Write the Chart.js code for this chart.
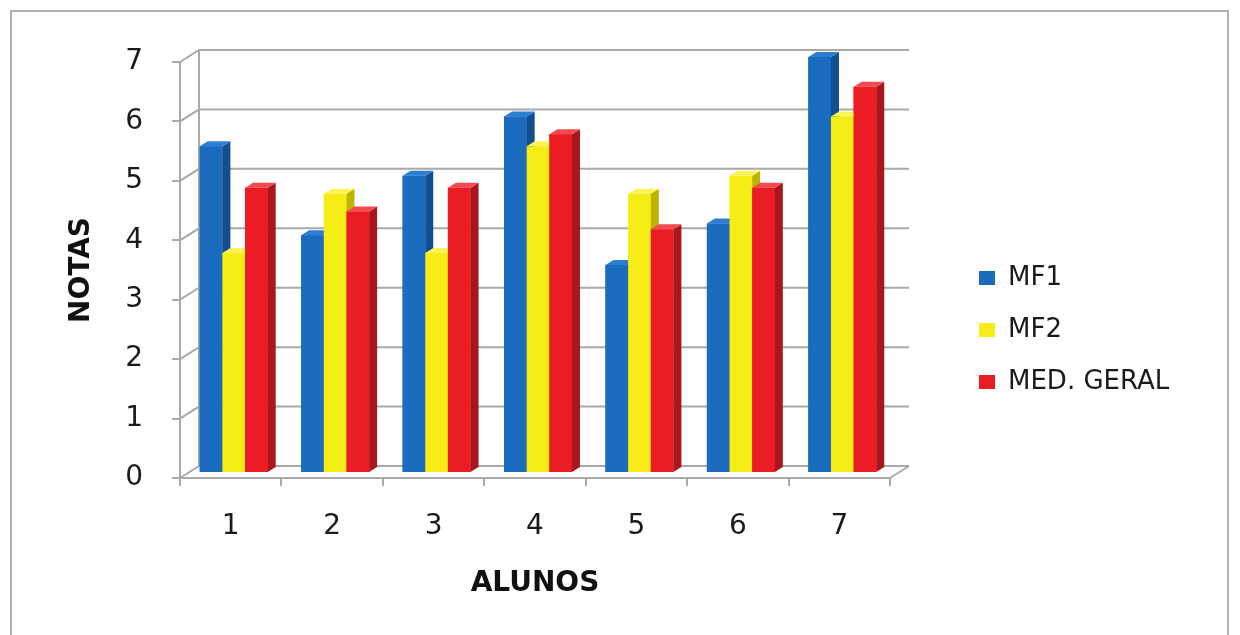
<!DOCTYPE html>
<html><head><meta charset="utf-8">
<script src="https://cdn.jsdelivr.net/npm/chart.js@4.4.1/dist/chart.umd.min.js"></script>
<style>
html,body{margin:0;padding:0;background:#fff;}
#wrap{position:relative;width:1240px;height:635px;overflow:hidden;background:#fff;}
#frame{position:absolute;left:10px;top:10px;width:1219px;height:660px;border:2px solid #b0b0b0;box-sizing:border-box;}
canvas{position:absolute;left:0;top:0;}
</style></head><body>
<div id="wrap"><div id="frame"></div><canvas id="c" width="1240" height="635"></canvas></div>
<script>
const categories = ['1', '2', '3', '4', '5', '6', '7'];
const seriesNames = ['MF1', 'MF2', 'MED. GERAL'];
const mf1 = [5.5, 4.0, 5.0, 6.0, 3.5, 4.2, 7.0];
const mf2 = [3.7, 4.7, 3.7, 5.5, 4.7, 5.0, 6.0];
const medGeral = [4.8, 4.4, 4.8, 5.7, 4.1, 4.8, 6.5];
const yTicks = [0, 1, 2, 3, 4, 5, 6, 7];

const frontColors = ['#1b6cbf', '#f6ec16', '#ec1c24'];
const sideColors = ['#134f8f', '#bdb400', '#a9161c'];
const topColors = ['#2a7fd3', '#fbf35a', '#f24a50'];
const GRID = '#a9a9a9';
const FONT = 'DejaVu Sans';
const LEG_SIZE = 26;
const DX = 19, DY = -12;   // wall depth
const BX = 3, BY = -5;     // bar plane offset
const SX = 8, SY = -5;     // bar thickness

function measureLegend(t) {
  const c = document.createElement('canvas').getContext('2d');
  c.font = LEG_SIZE + 'px ' + FONT;
  return c.measureText(t).width;
}
const widest = Math.max(...seriesNames.map(measureLegend));
const itemW = 16 + LEG_SIZE / 2 + widest;
const padR = Math.max(0, 1240 - 953 - 26 - itemW - 10);

const plugin3d = {
  id: 'threeD',
  beforeDatasetsDraw(chart) {
    const { ctx, chartArea: { left, right }, scales: { y } } = chart;
    ctx.save();
    ctx.strokeStyle = GRID;
    ctx.lineWidth = 2;
    yTicks.forEach(v => {
      const py = y.getPixelForValue(v);
      ctx.beginPath();
      ctx.moveTo(left, py);
      ctx.lineTo(left + DX, py + DY);
      ctx.lineTo(right + DX, py + DY);
      ctx.stroke();
    });
    const p0 = y.getPixelForValue(yTicks[0]);
    const pTop = y.getPixelForValue(yTicks[yTicks.length - 1]);
    ctx.beginPath();
    ctx.moveTo(left + DX, p0 + DY);
    ctx.lineTo(left + DX, pTop + DY);
    ctx.stroke();
    ctx.beginPath();
    ctx.moveTo(right, p0);
    ctx.lineTo(right + DX, p0 + DY);
    ctx.stroke();
    ctx.restore();
    ctx.save();
    ctx.translate(BX, BY);
  },
  afterDatasetsDraw(chart) {
    const ctx = chart.ctx;
    for (let i = 0; i < chart.data.datasets.length; i++) {
      chart.getDatasetMeta(i).data.forEach(bar => {
        bar.draw(ctx);
        const { x, y, base, width } = bar.getProps(['x', 'y', 'base', 'width'], true);
        const x0 = x - width / 2, x1 = x + width / 2;
        ctx.fillStyle = sideColors[i];
        ctx.beginPath();
        ctx.moveTo(x1, y); ctx.lineTo(x1 + SX, y + SY); ctx.lineTo(x1 + SX, base + SY); ctx.lineTo(x1, base);
        ctx.closePath(); ctx.fill();
        ctx.fillStyle = topColors[i];
        ctx.beginPath();
        ctx.moveTo(x0, y); ctx.lineTo(x0 + SX, y + SY); ctx.lineTo(x1 + SX, y + SY); ctx.lineTo(x1, y);
        ctx.closePath(); ctx.fill();
      });
    }
    ctx.restore();
  }
};

const seriesData = [mf1, mf2, medGeral];
new Chart(document.getElementById('c'), {
  type: 'bar',
  data: {
    labels: categories,
    datasets: seriesNames.map((n, i) => ({
      label: n,
      data: seriesData[i],
      backgroundColor: frontColors[i],
      borderWidth: 0,
      barPercentage: 1,
      categoryPercentage: 0.67,
      clip: false
    }))
  },
  options: {
    responsive: false,
    animation: false,
    devicePixelRatio: 1,
    layout: { padding: { top: 62, bottom: 37, left: 0, right: padR } },
    plugins: {
      tooltip: { enabled: false },
      legend: {
        position: 'right',
        maxWidth: 400,
        labels: {
          boxWidth: 16, boxHeight: 14, padding: 26, color: '#1a1a1a',
          font: { family: FONT, size: LEG_SIZE }
        }
      }
    },
    scales: {
      x: {
        afterFit(s) { s.height = 120; },
        grid: { drawOnChartArea: false, tickLength: 8, color: GRID, lineWidth: 2, offset: true },
        border: { color: GRID, width: 2 },
        ticks: { padding: 24, color: '#1a1a1a', font: { family: FONT, size: 28 } },
        title: { display: true, text: 'ALUNOS', color: '#111', font: { family: FONT, size: 28, weight: 'bold', lineHeight: 1 }, padding: { top: 0, bottom: 0 } }
      },
      y: {
        min: 0, max: 7,
        afterFit(s) { s.width = 180; },
        grid: { drawOnChartArea: false, tickLength: 8, color: GRID, lineWidth: 2 },
        border: { color: GRID, width: 2 },
        ticks: { stepSize: 1, padding: 29, color: '#1a1a1a', font: { family: FONT, size: 28 } },
        title: { display: true, text: 'NOTAS', color: '#111', font: { family: FONT, size: 28, weight: 'bold', lineHeight: 1 }, padding: { top: 68, bottom: 0 } }
      },
      y2: {
        type: 'linear', position: 'right', display: true,
        afterFit(s) { s.width = 63; },
        grid: { display: false }, border: { display: false }, ticks: { display: false }
      }
    }
  },
  plugins: [plugin3d]
});
</script>
</body></html>
